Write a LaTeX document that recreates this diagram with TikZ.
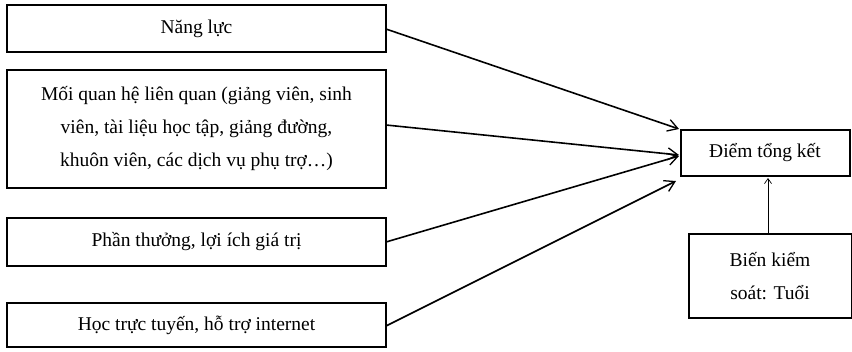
\documentclass[tikz,border=0pt]{standalone}
\usepackage{fontspec}
\setmainfont{Liberation Serif}
\usetikzlibrary{arrows.meta}
\begin{document}
\begin{tikzpicture}[x=1pt,y=-1pt,
  box/.style={draw,line width=1.2pt,inner sep=0pt},
  arr/.style={line width=1.6pt,-{Straight Barb[length=10pt,width=12pt,line width=1.3pt]}},
  thin arr/.style={line width=0.7pt,-{Straight Barb[length=5pt,width=7pt,line width=0.7pt]}},
  lbl/.style={font=\fontsize{19.5}{33}\selectfont,align=center}]
\useasboundingbox (0,0) rectangle (852,351);
\fill[white] (0,0) rectangle (852,351);
\draw[box] (7,5) rectangle (386,52);
\node[lbl] (nl) at (196.5,28.5) {Năng lực};
\draw[box] (7,70) rectangle (386,188);
\node[lbl] (mq) at (196.5,129) {Mối quan hệ liên quan (giảng viên, sinh\\viên, tài liệu học tập, giảng đường,\\khuôn viên, các dịch vụ phụ trợ…)};
\draw[box] (7,218) rectangle (386,266);
\node[lbl] (pt) at (196.5,242) {Phần thưởng, lợi ích giá trị};
\draw[box] (7,303) rectangle (386,347);
\node[lbl] (hc) at (196.5,325) {Học trực tuyến, hỗ trợ internet};
\draw[box] (681,130) rectangle (850,176);
\node[lbl] (dt) at (765,153) {Điểm tổng kết};
\draw[box] (689,234) rectangle (852,318);
\node[lbl] (bk) at (770,276) {Biến kiểm\\soát: Tuổi};
\coordinate (a1) at (386,29);
\coordinate (a2) at (386,125);
\coordinate (a3) at (386,242);
\coordinate (a4) at (386,326);
\coordinate (t1) at (679,129);
\coordinate (t2) at (679,155);
\coordinate (t3) at (679,156);
\coordinate (t4) at (676,181);
\draw[arr] (a1) -- (t1);
\draw[arr] (a2) -- (t2);
\draw[arr] (a3) -- (t3);
\draw[arr] (a4) -- (t4);
\coordinate (b1) at (768,234);
\coordinate (b2) at (768,178);
\draw[thin arr] (b1) -- (b2);
\end{tikzpicture}
\end{document}
